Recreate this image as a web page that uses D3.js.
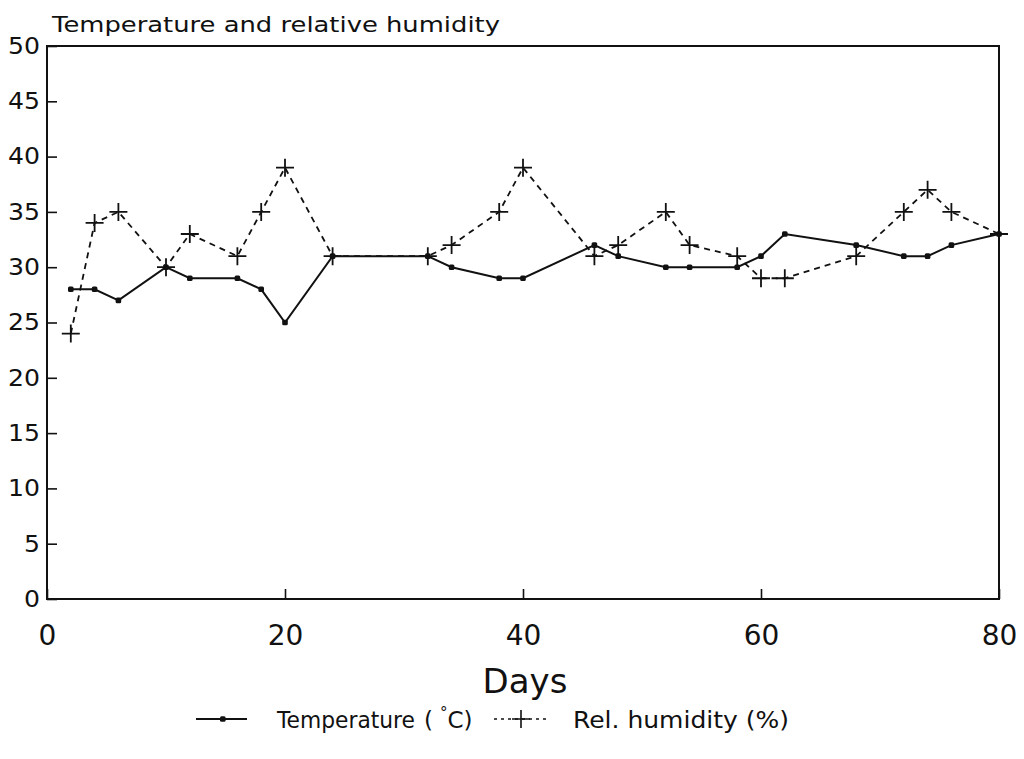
<!DOCTYPE html>
<html>
<head>
<meta charset="utf-8">
<script src="https://cdn.jsdelivr.net/npm/d3@7/dist/d3.min.js"></script>
<style>
  html, body { margin: 0; padding: 0; background: #fff; }
  svg { display: block; }
  text { font-family: "DejaVu Sans", sans-serif; fill: #111; }
</style>
</head>
<body>
<script>
// Sampling days and the two measured series
const days = [2, 4, 6, 10, 12, 16, 18, 20, 24, 32, 34, 38, 40, 46, 48, 52, 54, 58, 60, 62, 68, 72, 74, 76, 80];
const temperature = [28, 28, 27, 30, 29, 29, 28, 25, 31, 31, 30, 29, 29, 32, 31, 30, 30, 30, 31, 33, 32, 31, 31, 32, 33];
const humidity    = [24, 34, 35, 30, 33, 31, 35, 39, 31, 31, 32, 35, 39, 31, 32, 35, 32, 31, 29, 29, 31, 35, 37, 35, 33];

const xTicks = [0, 20, 40, 60, 80];
const yTicks = [0, 5, 10, 15, 20, 25, 30, 35, 40, 45, 50];

const W = 1024, H = 759;
const plotL = 47, plotR = 999, plotT = 46, plotB = 599;

const svg = d3.select("body").append("svg").attr("width", W).attr("height", H);

const x = d3.scaleLinear().domain([0, 80]).range([plotL, plotR]);
const y = d3.scaleLinear().domain([0, 50]).range([plotB, plotT]);

// Title
svg.append("text")
  .attr("x", 52).attr("y", 32)
  .attr("font-size", 21)
  .attr("textLength", 448).attr("lengthAdjust", "spacingAndGlyphs")
  .text("Temperature and relative humidity");

// Axes with inward ticks
const yAxis = d3.axisLeft(y).tickValues(yTicks).tickSize(-10).tickPadding(7).tickFormat(d3.format("d"));
const gy = svg.append("g").attr("transform", `translate(${plotL},0)`).call(yAxis);
gy.select(".domain").remove();
gy.selectAll(".tick line").attr("stroke", "#111").attr("stroke-width", 1.6);
gy.selectAll(".tick text")
  .attr("font-family", "DejaVu Sans, sans-serif")
  .attr("font-size", 23).attr("fill", "#111")
  .attr("textLength", d => String(d).length * 16)
  .attr("lengthAdjust", "spacingAndGlyphs");

const xAxis = d3.axisBottom(x).tickValues(xTicks).tickSize(-10).tickPadding(26).tickFormat(d3.format("d"));
const gx = svg.append("g").attr("transform", `translate(0,${plotB})`).call(xAxis);
gx.select(".domain").remove();
gx.selectAll(".tick line").attr("stroke", "#111").attr("stroke-width", 1.6);
gx.selectAll(".tick text")
  .attr("font-family", "DejaVu Sans, sans-serif")
  .attr("font-size", 28).attr("fill", "#111");

// Plot frame
svg.append("rect")
  .attr("x", plotL).attr("y", plotT)
  .attr("width", plotR - plotL).attr("height", plotB - plotT)
  .attr("fill", "none").attr("stroke", "#111").attr("stroke-width", 2);

// Axis title
svg.append("text")
  .attr("x", 525).attr("y", 693)
  .attr("text-anchor", "middle")
  .attr("font-size", 34)
  .text("Days");

const tempData = days.map((d, i) => [d, temperature[i]]);
const humData = days.map((d, i) => [d, humidity[i]]);

const line = d3.line().x(d => x(d[0])).y(d => y(d[1]));

// Relative humidity: dashed line with plus markers
svg.append("path")
  .datum(humData)
  .attr("d", line)
  .attr("fill", "none").attr("stroke", "#111")
  .attr("stroke-width", 1.8).attr("stroke-dasharray", "6,5");

const plusPath = s => `M${-s},0H${s}M0,${-s}V${s}`;
svg.append("g").selectAll("path")
  .data(humData)
  .join("path")
  .attr("transform", d => `translate(${x(d[0])},${y(d[1])})`)
  .attr("d", plusPath(9))
  .attr("fill", "none").attr("stroke", "#111").attr("stroke-width", 1.8);

// Temperature: solid line with dot markers
svg.append("path")
  .datum(tempData)
  .attr("d", line)
  .attr("fill", "none").attr("stroke", "#111").attr("stroke-width", 2);

svg.append("g").selectAll("rect")
  .data(tempData)
  .join("rect")
  .attr("x", d => x(d[0]) - 2.8).attr("y", d => y(d[1]) - 2.8)
  .attr("width", 5.6).attr("height", 5.6)
  .attr("rx", 1.5)
  .attr("fill", "#111");

// Legend
const ly = 719;
const lg = svg.append("g");
lg.append("line").attr("x1", 196).attr("x2", 247).attr("y1", ly).attr("y2", ly)
  .attr("stroke", "#111").attr("stroke-width", 1.8);
lg.append("rect").attr("x", 220).attr("y", ly - 2.8).attr("width", 5.6).attr("height", 5.6)
  .attr("rx", 1.5).attr("fill", "#111");
const t1 = lg.append("text").attr("x", 277).attr("y", ly + 9).attr("font-size", 23);
t1.append("tspan").attr("textLength", 138).attr("lengthAdjust", "spacingAndGlyphs").text("Temperature");
t1.append("tspan").attr("dx", 9).text("(");
t1.append("tspan").attr("dx", 7).attr("font-size", 15).attr("dy", -10).text("°");
t1.append("tspan").attr("dy", 10).text("C)");

lg.append("line").attr("x1", 494).attr("x2", 548).attr("y1", ly).attr("y2", ly)
  .attr("stroke", "#111").attr("stroke-width", 1.6).attr("stroke-dasharray", "3,4");
lg.append("path").attr("transform", `translate(521,${ly})`).attr("d", plusPath(9))
  .attr("fill", "none").attr("stroke", "#111").attr("stroke-width", 1.6);
lg.append("text").attr("x", 573).attr("y", ly + 9).attr("font-size", 23)
  .attr("textLength", 216).attr("lengthAdjust", "spacingAndGlyphs")
  .text("Rel. humidity (%)");
</script>
</body>
</html>
